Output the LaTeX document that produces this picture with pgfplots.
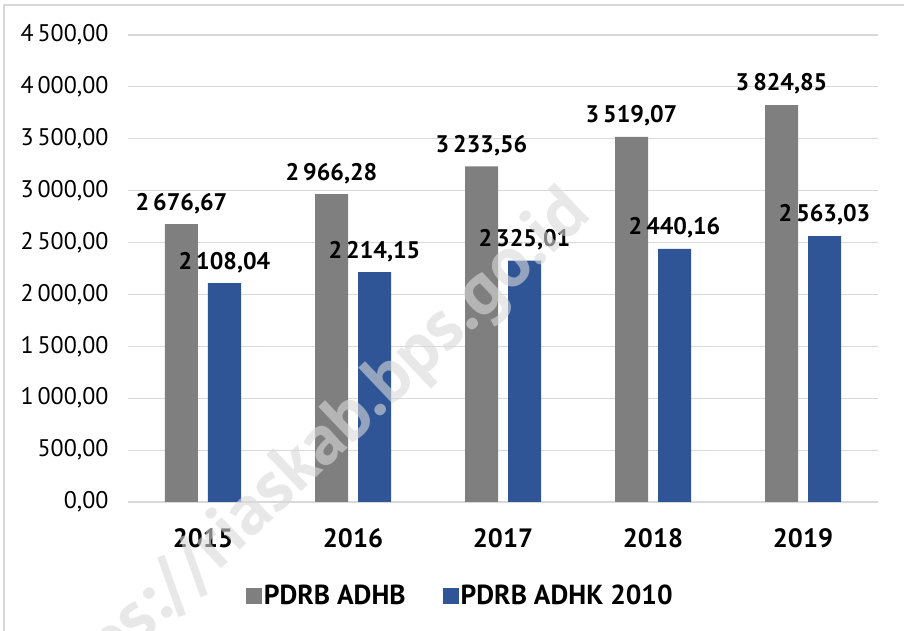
\documentclass[border=0pt]{standalone}
\usepackage{fontspec}
\setmainfont{PT Sans}
\usepackage{pgfplots}
\pgfplotsset{compat=1.18}

\definecolor{adhb}{HTML}{7F7F7F}
\definecolor{adhk}{HTML}{2F5597}
\definecolor{gridc}{HTML}{D9D9D9}

\begin{document}
\begin{tikzpicture}
  % page = 904 x 631, axis box lower-left at origin
  \clip (-128pt,-129pt) rectangle (776pt,502pt);
  \draw[gridc, line width=1.2pt] (-124pt,-129pt) -- (-124pt,497pt) -- (776pt,497pt);
  \begin{axis}[
      scale only axis,
      width=750pt, height=467pt,
      ybar=10pt,
      bar width=33pt,
      xmin=-0.5, xmax=4.5,
      ymin=0, ymax=4500,
      ytick distance=500,
      xtick={0,1,2,3,4},
      xticklabels={2015,2016,2017,2018,2019},
      major tick length=0pt,
      axis line style={draw=none},
      ymajorgrids=true,
      major grid style={gridc, line width=1.2pt},
      /pgf/number format/.cd, fixed, fixed zerofill, precision=2, use comma,
        1000 sep={\,}, assume math mode=true,
      /pgfplots/.cd,
      y tick label style={font=\fontsize{24}{28}\selectfont, xshift=-16pt},
      x tick label style={font=\fontsize{26.5}{30}\selectfont\bfseries, yshift=-23pt},
      nodes near coords={\pgfmathprintnumber{\pgfplotspointmeta}},
      every node near coord/.append style={font=\fontsize{24}{28}\selectfont\bfseries,
        black, anchor=south, yshift=7pt},
      legend style={at={(0.443,-0.201)}, anchor=center, legend columns=2, draw=none,
        font=\fontsize{27.5}{31}\selectfont\bfseries,
        /tikz/every even column/.append style={column sep=35pt}},
      legend image code/.code={\fill[#1] (0pt,-8pt) rectangle (16pt,8pt);},
    ]
    \addplot[draw=none, fill=adhb] coordinates {
      (0,2676.67) (1,2966.28) (2,3233.56) (3,3519.07) (4,3824.85)
    };
    \addplot[draw=none, fill=adhk] coordinates {
      (0,2108.04) (1,2214.15) (2,2325.01) (3,2440.16) (4,2563.03)
    };
    \legend{PDRB ADHB, PDRB ADHK 2010}
  \end{axis}
  % watermark
  \node[rotate=43.5, anchor=base east, text=gray!30, opacity=0.6,
        font=\fontsize{72}{76}\selectfont\bfseries] at (467pt,288pt)
        {https://riaskab.bps.go.id};
\end{tikzpicture}
\end{document}
